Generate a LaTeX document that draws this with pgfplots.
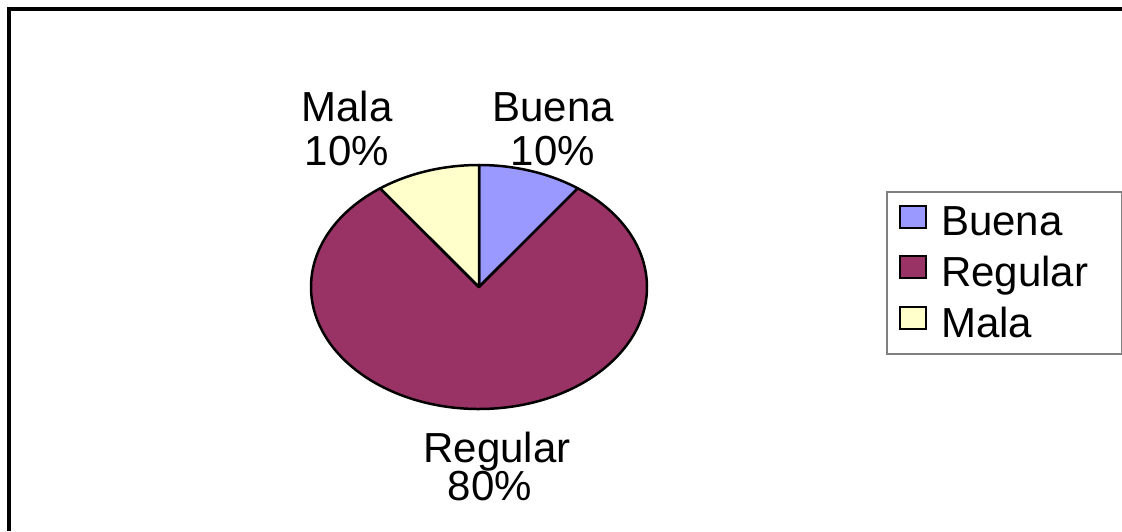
\documentclass[border=0pt]{standalone}
\usepackage{pgfplots}
\pgfplotsset{compat=1.18}
\usepackage{pgfplotstable}
\usepackage{fontspec}
\setmainfont{Liberation Sans}
\definecolor{slice0}{HTML}{9999FF}
\definecolor{slice1}{HTML}{993366}
\definecolor{slice2}{HTML}{FFFFCC}
\definecolor{legframe}{HTML}{808080}

\pgfplotstableread{
label value
Buena 10
Regular 80
Mala 10
}\piedata

\begin{document}
\begin{tikzpicture}
\begin{axis}[
  scale only axis, width=1122pt, height=531pt,
  xmin=0, xmax=1122, ymin=0, ymax=531,
  hide axis, clip=false,
  legend cell align=left,
  legend image code/.code={\draw[#1, line width=2.5pt] (0pt,-6pt) rectangle (26pt,16pt);},
  legend style={at={(axis cs:886,340)}, anchor=north west,
    draw=legframe, line width=1.5pt,
    font=\fontsize{42}{48}\selectfont,
    inner xsep=12pt, inner ysep=13pt, row sep=15pt,
    /tikz/every odd column/.append style={column sep=12pt},
    /tikz/every even column/.append style={text width=166pt}},
]
\coordinate (bl) at (axis cs:0,0);
\coordinate (tr) at (axis cs:1122,531);
\def\cx{479}\def\cy{244}\def\rx{168}\def\ry{122}
\def\cum{0}
\pgfplotsforeachungrouped \i in {0,1,2}{%
  \pgfplotstablegetelem{\i}{value}\of\piedata
  \let\v\pgfplotsretval
  \pgfmathsetmacro\sa{90-3.6*\cum}%
  \pgfmathsetmacro\ea{90-3.6*(\cum+\v)}%
  \pgfmathsetmacro\cum{\cum+\v}%
  \pgfmathsetmacro\sx{\cx+\rx*cos(\sa)}%
  \pgfmathsetmacro\sy{\cy+\ry*sin(\sa)}%
  \edef\temp{\noexpand\draw[fill=slice\i, draw=black, line width=2.5pt, line join=round] (axis cs:\cx,\cy) -- (axis cs:\sx,\sy) arc[start angle=\sa, end angle=\ea, x radius=\rx pt, y radius=\ry pt] -- cycle;}%
  \temp
}
\addlegendimage{fill=slice0, draw=black}
\addlegendentry{Buena}
\addlegendimage{fill=slice1, draw=black}
\addlegendentry{Regular}
\addlegendimage{fill=slice2, draw=black}
\addlegendentry{Mala}
\draw[black, line width=4pt] (axis cs:9,0) -- (axis cs:9,522) -- (axis cs:1122,522);
\node[anchor=base, font=\fontsize{42}{48}\selectfont, inner sep=0pt] at (axis cs:347,409) {Mala};
\node[anchor=base, font=\fontsize{42}{48}\selectfont, inner sep=0pt] at (axis cs:347,365) {10\%};
\node[anchor=base, font=\fontsize{42}{48}\selectfont, inner sep=0pt] at (axis cs:553,409) {Buena};
\node[anchor=base, font=\fontsize{42}{48}\selectfont, inner sep=0pt] at (axis cs:553,365) {10\%};
\node[anchor=base, font=\fontsize{42}{48}\selectfont, inner sep=0pt] at (axis cs:497,69) {Regular};
\node[anchor=base, font=\fontsize{42}{48}\selectfont, inner sep=0pt] at (axis cs:490,31) {80\%};
\end{axis}
\pgfresetboundingbox
\path (bl) rectangle (tr);
\end{tikzpicture}
\end{document}
